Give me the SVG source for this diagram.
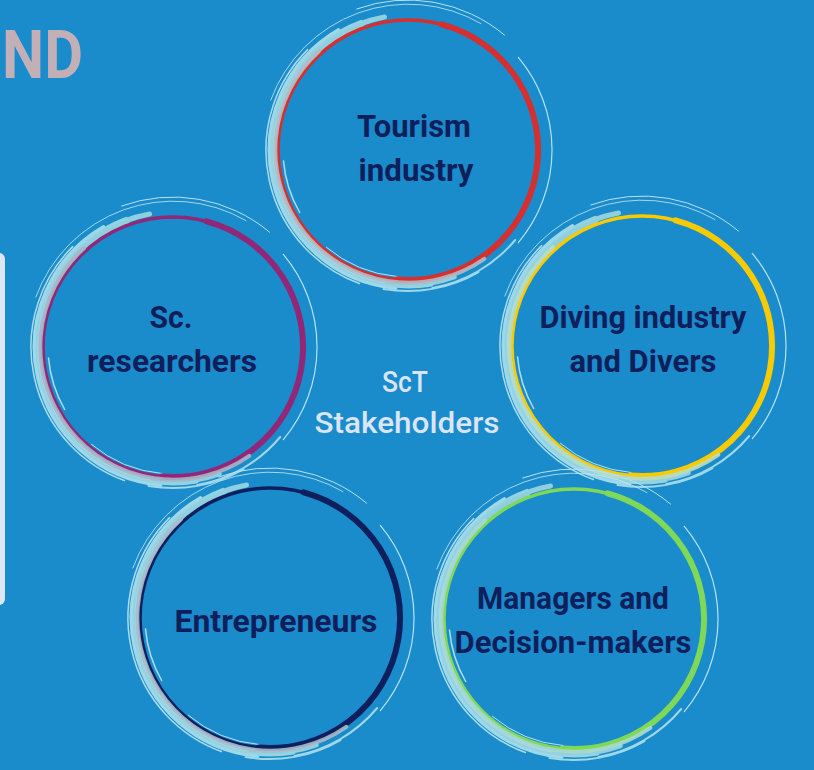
<svg xmlns="http://www.w3.org/2000/svg" xmlns:xlink="http://www.w3.org/1999/xlink" width="814" height="770" viewBox="0 0 814 770">
<style>
.bg{fill:#1a8bcb}
.lbl{font-family:Roboto,"Liberation Sans",sans-serif;font-weight:700;font-size:31px;fill:#0f1f5c;text-anchor:middle}
.ctr{font-family:Roboto,"Liberation Sans",sans-serif;font-weight:500;font-size:30px;fill:#dbe5f5;text-anchor:middle}
.nd{font-family:Roboto,"Liberation Sans",sans-serif;font-weight:700;font-size:66px;fill:#c3afb6}
.s{fill:none;stroke-linecap:round}
.a1{stroke:#8ecfe0;stroke-width:5}
.a2{stroke:#9fd8e8;stroke-width:3}
.a3{stroke:#a9dcec;stroke-width:1.5}
.a4{stroke:#c4e8f4;stroke-width:1;opacity:.8}
.a5{stroke:#b7e2f0;stroke-width:1}
.ring{fill:none;stroke-width:3.5}
.thick{fill:none;stroke-width:6;stroke-linecap:round}
.over{fill:none;stroke-width:4;stroke-linecap:round;opacity:.9}
</style>
<defs>
<g id="sw">
<path class="s a1" d="M46.2 126.9 A135 135 0 1 1 -23.5 -133.0"/>
<path class="s a2" style="stroke:#93d3e3" d="M23.8 134.9 A137 137 0 0 1 -46.9 -128.7"/>
<path class="s a2" style="stroke:#a5dbe9;stroke-width:2.5" d="M-23.3 132 A134 134 0 0 1 -109.7 -76.9"/>
<path class="s a2" style="stroke-width:2" d="M70.5 122.1 A141 141 0 0 1 -24.5 138.9"/>
<path class="s a2" d="M-12.1 138.4 A139 139 0 0 1 -69.5 -120.4"/>
<path class="s a3" d="M-48.6 133.5 A142 142 0 0 1 -100.4 -100.4"/>
<path class="s a4" d="M-137.2 -49.9 A146 146 0 0 1 73 -126.4"/>
<path class="s a5" d="M-51.3 -141 A150 150 0 0 1 96.5 -114.9"/>
<path class="s a5" style="stroke-width:1.2" d="M110.3 -92.6 A144 144 0 0 1 110.3 92.6"/>
<path class="s a2" style="stroke-width:2" d="M107.2 90 A140 140 0 0 1 24.4 137.9"/>
<path class="s a3" d="M-108.3 62.5 A125 125 0 0 1 -124.5 10.9"/>
<path class="s a5" d="M-11 126.5 A127 127 0 0 1 -81.6 97.3"/>
<path class="s a1" style="stroke-width:3" d="M-124.1 -45.1 A132 132 0 0 1 -45.1 -124.0"/>
</g>
<g id="ringshape">
<circle class="ring" r="130"/>
<path class="thick" d="M33.6 -125.6 A130 130 0 0 1 -11.3 129.5"/>
</g>
<path id="ov" class="over" d="M76.3 108.9 A133 133 0 0 1 -89 -98.8"/>
</defs>
<rect class="bg" x="0" y="0" width="814" height="770"/>
<text class="nd" x="2" y="78" textLength="81" lengthAdjust="spacingAndGlyphs">ND</text>
<rect x="-10" y="253" width="15" height="352" rx="6" fill="#dce6f6"/>
<g id="connectors"/>
<g id="tourism" transform="translate(408,150)">
<use xlink:href="#sw"/>
<use xlink:href="#ringshape" stroke="#d62f2f"/>
<use xlink:href="#ov" stroke="#b5bac2"/>
<text class="lbl" x="6" y="-13" textLength="114" lengthAdjust="spacingAndGlyphs">Tourism</text>
<text class="lbl" x="8" y="31" textLength="115" lengthAdjust="spacingAndGlyphs">industry</text>
</g>
<g id="researchers" transform="translate(173,347)">
<use xlink:href="#sw"/>
<use xlink:href="#ringshape" stroke="#922777"/>
<use xlink:href="#ov" stroke="#aab4c6"/>
<text class="lbl" x="-2" y="-19" textLength="43" lengthAdjust="spacingAndGlyphs">Sc.</text>
<text class="lbl" x="-1" y="25" textLength="170" lengthAdjust="spacingAndGlyphs">researchers</text>
</g>
<g id="diving" transform="translate(642,346)">
<use xlink:href="#sw"/>
<use xlink:href="#ringshape" stroke="#f8ca00"/>
<use xlink:href="#ov" stroke="#b9dcc0"/>
<text class="lbl" x="1" y="-18" textLength="207" lengthAdjust="spacingAndGlyphs">Diving industry</text>
<text class="lbl" x="1" y="26" textLength="147" lengthAdjust="spacingAndGlyphs">and Divers</text>
</g>
<g id="entrepreneurs" transform="translate(270,618)">
<use xlink:href="#sw"/>
<use xlink:href="#ringshape" stroke="#0e1f5e"/>
<use xlink:href="#ov" stroke="#a8bccb"/>
<text class="lbl" x="6" y="14" textLength="203" lengthAdjust="spacingAndGlyphs">Entrepreneurs</text>
</g>
<g id="managers" transform="translate(574,619)">
<use xlink:href="#sw"/>
<use xlink:href="#ringshape" stroke="#7fd957"/>
<use xlink:href="#ov" stroke="#a9d8cf"/>
<text class="lbl" x="-1" y="-10" textLength="192" lengthAdjust="spacingAndGlyphs">Managers and</text>
<text class="lbl" x="-1" y="34" textLength="237" lengthAdjust="spacingAndGlyphs">Decision-makers</text>
</g>
<g id="center">
<text class="ctr" x="405" y="392" textLength="46" lengthAdjust="spacingAndGlyphs">ScT</text>
<text class="ctr" x="407" y="433" textLength="185" lengthAdjust="spacingAndGlyphs">Stakeholders</text>
</g>
</svg>
